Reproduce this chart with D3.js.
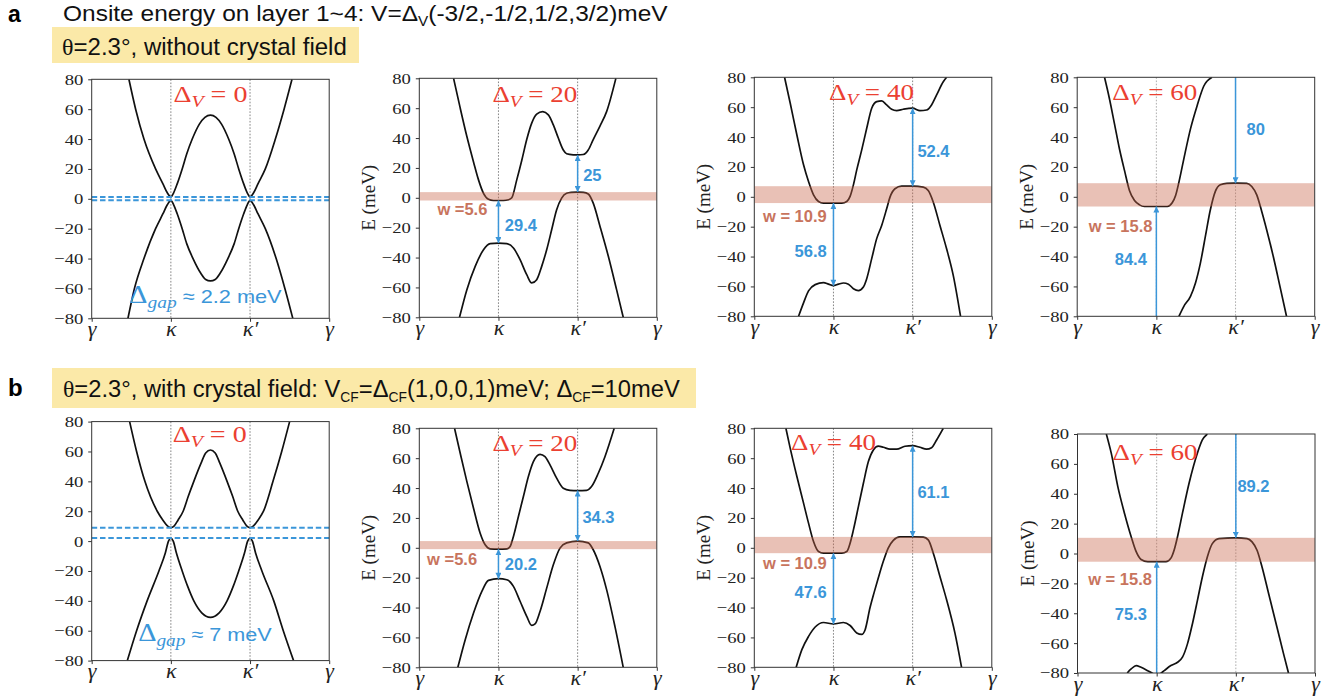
<!DOCTYPE html>
<html><head><meta charset="utf-8">
<script src="https://cdn.jsdelivr.net/npm/d3@7"></script>
<style>body{margin:0;background:#fff}svg{display:block}text{white-space:pre}</style>
</head><body>
<svg id="c" width="1343" height="700"></svg>
<script>
// ---------- data ----------
const kTicks = [0, 1, 2, 3];
const kTickLabels = ["γ", "κ", "κ′", "γ"];
const eTicks = [-80, -60, -40, -20, 0, 20, 40, 60, 80];
const deltaV = [0, 20, 40, 60];

// band points [k, E(meV)]  (k: γ=0, κ=1, κ'=2, γ=3)
const a1Cond = [[0.47,80],[0.555,60],[0.66,40],[0.807,20],[0.9,10],[0.955,4],[1.0,1.2],[1.035,4],[1.08,10],[1.143,20],[1.2,30],[1.27,40],[1.36,50],[1.43,54.5],[1.5,56],[1.57,54.5],[1.64,50],[1.73,40],[1.8,30],[1.857,20],[1.92,10],[1.965,4],[2.0,1.2],[2.045,4],[2.1,10],[2.193,20],[2.32,40],[2.43,60],[2.53,80]];
const a1Val = [[0.458,-80],[0.54,-60],[0.66,-40],[0.807,-20],[0.9,-10],[0.955,-4],[1.0,-1.0],[1.035,-4],[1.08,-10],[1.143,-20],[1.2,-30],[1.28,-40],[1.38,-50],[1.44,-54],[1.5,-55],[1.56,-54],[1.62,-50],[1.72,-40],[1.8,-30],[1.857,-20],[1.92,-10],[1.965,-4],[2.0,-1.0],[2.045,-4],[2.1,-10],[2.193,-20],[2.33,-40],[2.44,-60],[2.54,-80]];
const a2Cond = [[0.433,80],[0.517,60],[0.601,41],[0.685,24],[0.748,12],[0.811,3],[0.874,-1],[0.937,-1.8],[1.0,-1.8],[1.063,-1.8],[1.126,-1.3],[1.168,0],[1.231,12],[1.294,25],[1.357,39],[1.42,50],[1.483,56],[1.559,57.7],[1.63,55.5],[1.693,48.8],[1.756,40],[1.819,32],[1.861,29.5],[1.945,28.8],[2.0,28.7],[2.071,29],[2.134,32],[2.197,39],[2.282,48],[2.366,57.7],[2.483,80]];
const a2Val = [[0.508,-80],[0.601,-61.5],[0.706,-45.9],[0.811,-34.8],[0.895,-30.7],[1.0,-30.3],[1.105,-30.7],[1.189,-33.6],[1.273,-41.4],[1.357,-51.5],[1.42,-57],[1.483,-54.8],[1.546,-45.9],[1.609,-34.8],[1.672,-21.4],[1.735,-8],[1.798,-0.2],[1.861,3],[1.924,3.6],[2.0,3.8],[2.071,3.6],[2.134,2.5],[2.197,-3.6],[2.282,-19],[2.387,-39],[2.492,-61.5],[2.576,-80]];
const a3Cond = [[0.382,80],[0.454,62.6],[0.538,41.4],[0.622,21.4],[0.685,10.2],[0.748,1.3],[0.811,-3.1],[0.874,-4.2],[1.0,-4.2],[1.105,-4.2],[1.168,-3.1],[1.21,0.3],[1.252,8],[1.294,18],[1.357,31.4],[1.42,45.9],[1.483,59.3],[1.546,63.7],[1.609,64.2],[1.672,61.5],[1.735,58.6],[1.798,57.7],[1.882,58.6],[2.0,59.3],[2.092,57.7],[2.176,58.1],[2.239,61.5],[2.303,68.2],[2.387,77],[2.429,80]];
const a3Val = [[0.559,-80],[0.622,-71],[0.685,-63],[0.769,-58.8],[0.874,-57.5],[0.937,-58.5],[1.0,-59.5],[1.063,-58.5],[1.126,-57.7],[1.189,-58.5],[1.252,-61.5],[1.315,-62.8],[1.378,-60.4],[1.42,-54.8],[1.483,-41.4],[1.546,-28],[1.609,-19.2],[1.672,-8],[1.714,-0.2],[1.777,5.4],[1.861,7.1],[2.0,7.1],[2.134,6.5],[2.197,4.2],[2.261,-3.6],[2.345,-19.2],[2.429,-34.8],[2.513,-52.6],[2.605,-80]];
const a4Cond = [[0.345,80],[0.408,65.5],[0.471,48.8],[0.534,32],[0.598,17.5],[0.661,4.1],[0.724,-2.5],[0.787,-5.4],[0.849,-6.5],[1.0,-6.5],[1.138,-6.5],[1.2,-4],[1.243,0.9],[1.285,9.8],[1.347,25.4],[1.431,45.5],[1.515,61],[1.598,74],[1.703,80]];
const a4Val = [[1.285,-80],[1.347,-73.3],[1.431,-66.6],[1.494,-57.7],[1.556,-44.4],[1.619,-26.5],[1.682,-8.7],[1.745,3.6],[1.808,8],[1.891,9],[2.0,9.1],[2.142,9],[2.205,6.9],[2.268,1.3],[2.331,-9.8],[2.393,-22],[2.477,-40],[2.561,-60],[2.644,-80]];
const b1Cond = [[0.479,80],[0.567,60],[0.672,40],[0.828,20],[0.9,14],[0.96,10],[1.0,9],[1.04,10],[1.09,14],[1.155,20],[1.22,30],[1.29,40],[1.38,52],[1.44,59],[1.5,61],[1.56,59],[1.62,52],[1.71,40],[1.78,30],[1.845,20],[1.91,14],[1.96,10],[2.0,9],[2.04,10],[2.1,14],[2.17,20],[2.29,40],[2.4,60],[2.5,80]];
const b1Val = [[0.45,-80],[0.567,-60],[0.7,-40],[0.849,-20],[0.93,-8],[0.97,0],[1.0,2],[1.03,0],[1.07,-8],[1.143,-20],[1.21,-30],[1.29,-40],[1.39,-48],[1.5,-51],[1.61,-48],[1.71,-40],[1.79,-30],[1.857,-20],[1.93,-8],[1.97,0],[2.0,2],[2.03,0],[2.07,-8],[2.15,-20],[2.3,-40],[2.42,-60],[2.55,-80]];
const b2Cond = [[0.445,80],[0.517,63.3],[0.601,44.3],[0.685,26.5],[0.769,9.8],[0.832,2],[0.895,-0.7],[1.0,-0.9],[1.105,-0.7],[1.147,0.9],[1.189,7.6],[1.252,21],[1.315,34.3],[1.378,47.7],[1.441,57.7],[1.525,62.6],[1.588,61],[1.651,55.5],[1.735,46.6],[1.819,39.9],[1.903,38.5],[2.0,38.3],[2.113,38.5],[2.176,41],[2.261,49.9],[2.345,61],[2.462,80]];
const b2Val = [[0.487,-80],[0.58,-61.5],[0.685,-43.7],[0.79,-29.2],[0.874,-21.8],[1.0,-20.7],[1.105,-21.4],[1.189,-25.8],[1.273,-35.8],[1.357,-45.9],[1.42,-52],[1.462,-51],[1.525,-42.6],[1.609,-27],[1.693,-11.4],[1.777,-0.2],[1.861,3.3],[2.0,4.5],[2.134,3.3],[2.197,-1.3],[2.282,-12.5],[2.366,-28],[2.471,-52.6],[2.576,-80]];
const b3Cond = [[0.399,80],[0.454,66.6],[0.538,47.7],[0.622,29.9],[0.685,16.5],[0.748,4.2],[0.811,-2.5],[0.874,-3.6],[1.0,-3.6],[1.105,-3.6],[1.168,-2.5],[1.21,3.1],[1.252,12],[1.315,27.6],[1.378,43.2],[1.441,57.7],[1.504,65.5],[1.567,68],[1.63,67.3],[1.714,66],[1.798,66],[1.903,68],[2.0,68.4],[2.092,67.3],[2.176,66],[2.239,67],[2.303,72.2],[2.387,80]];
const b3Val = [[0.529,-80],[0.601,-68.2],[0.685,-59.3],[0.769,-53],[0.874,-50],[1.0,-51],[1.126,-50],[1.21,-52],[1.294,-57],[1.357,-58],[1.399,-55],[1.462,-40],[1.513,-30],[1.567,-20],[1.63,-9],[1.693,0],[1.756,5],[1.84,7.3],[2.0,7.3],[2.134,7.1],[2.197,5.3],[2.261,-3.6],[2.345,-19.2],[2.429,-34.8],[2.534,-57],[2.618,-80]];
const b4Cond = [[0.364,80],[0.427,67],[0.51,44.6],[0.594,26.8],[0.678,11.2],[0.741,1.2],[0.803,-4],[0.887,-5.5],[1.0,-5.5],[1.117,-5.5],[1.18,-3.1],[1.222,2.5],[1.264,11.4],[1.326,27],[1.41,47.2],[1.515,67.3],[1.577,76],[1.64,80]];
const b4Val = [[0.628,-80],[0.678,-77.3],[0.741,-75],[0.803,-76.2],[0.887,-78.5],[0.971,-81],[1.0,-82],[1.033,-81],[1.096,-78.4],[1.18,-75],[1.264,-72.8],[1.326,-69.4],[1.389,-60.5],[1.452,-47],[1.515,-31.4],[1.577,-15.7],[1.64,-2.3],[1.703,6.6],[1.787,10],[2.0,10.5],[2.142,10],[2.205,7.8],[2.268,2.2],[2.331,-9],[2.414,-26.8],[2.519,-49.2],[2.603,-67.2],[2.665,-80]];

// Δgap dashed levels (panel 1 of each row)
const a1GapLevels = [1.2, -1.0];
const b1GapLevels = [9, 2];
const gapTexts = ["2.2 meV", "7 meV"];

// bandwidth windows [bottom, top] (meV)
const a2Window = [-1.8, 3.8], a3Window = [-4.2, 7.1], a4Window = [-6.5, 9.1];
const b2Window = [-0.9, 4.5], b3Window = [-3.6, 7.3], b4Window = [-5.5, 10.5];
const wLabelsA = ["w =5.6", "w = 10.9", "w = 15.8"];
const wLabelsB = ["w =5.6", "w = 10.9", "w = 15.8"];

// gap arrows at κ and κ' : [k, fromE, toE]
const a2Arrows = [[1, -1.8, -30.3], [2, 3.8, 28.7]];
const a3Arrows = [[1, -4.2, -59.5], [2, 7.1, 59.3]];
const a4Arrows = [[1, -80, -6.5], [2, 80, 9.1]];
const b2Arrows = [[1, -0.9, -20.7], [2, 4.5, 38.3]];
const b3Arrows = [[1, -3.6, -51], [2, 7.3, 68.4]];
const b4Arrows = [[1, -80, -5.5], [2, 80, 10.5]];
const a2GapLabels = ["29.4", "25"], a3GapLabels = ["56.8", "52.4"], a4GapLabels = ["84.4", "80"];
const b2GapLabels = ["20.2", "34.3"], b3GapLabels = ["47.6", "61.1"], b4GapLabels = ["75.3", "89.2"];

// ---------- styles / layout ----------
const SANS = "'Liberation Sans', Arial, sans-serif";
const SERIF = "'Liberation Serif', 'Times New Roman', serif";
const RED = "#eb4031", BLUE = "#3b96d9", WCOL = "#c8745d", YEL = "#fbe9a8";
const PW = 237.5, PH = 239;

const panels = [
  {pos:[91.7,79.3], dv:deltaV[0], cond:a1Cond, val:a1Val, gap:a1GapLevels, gapText:gapTexts[0], gapPos:[1.435,-69.7,153], title:[1.5,65,74], ylab:false},
  {pos:[419.3,78.3], dv:deltaV[1], cond:a2Cond, val:a2Val, win:a2Window, wl:wLabelsA[0], arrows:a2Arrows, gl:a2GapLabels, title:[1.46,64.3,85], ylab:true, single:false,
    lab:[[1.08,-18,"start"],[2.07,15,"start"],[0.86,-7.5,"end"]]},
  {pos:[754.3,77.3], dv:deltaV[2], cond:a3Cond, val:a3Val, win:a3Window, wl:wLabelsA[1], arrows:a3Arrows, gl:a3GapLabels, title:[1.48,64.8,85], ylab:true, single:false,
    lab:[[0.915,-36.3,"end"],[2.06,30.7,"start"],[0.915,-12.8,"end"]]},
  {pos:[1077.2,77.3], dv:deltaV[3], cond:a4Cond, val:a4Val, win:a4Window, wl:wLabelsA[2], arrows:a4Arrows, gl:a4GapLabels, title:[0.98,64.8,85], ylab:true, single:true,
    lab:[[0.88,-41.6,"end"],[2.14,45.4,"start"],[0.95,-19.5,"end"]]},
  {pos:[91.7,421.6], dv:deltaV[0], cond:b1Cond, val:b1Val, gap:b1GapLevels, gapText:gapTexts[1], gapPos:[1.43,-67,134], title:[1.49,66.6,74], ylab:false},
  {pos:[419.3,428.3], dv:deltaV[1], cond:b2Cond, val:b2Val, win:b2Window, wl:wLabelsB[0], arrows:b2Arrows, gl:b2GapLabels, title:[1.46,65,85], ylab:true, single:false,
    lab:[[1.08,-10.8,"start"],[2.06,20.8,"start"],[0.73,-7.5,"end"]]},
  {pos:[754.3,428.3], dv:deltaV[2], cond:b3Cond, val:b3Val, win:b3Window, wl:wLabelsB[1], arrows:b3Arrows, gl:b3GapLabels, title:[1.0,65.5,85], ylab:true, single:false,
    lab:[[0.915,-29.4,"end"],[2.06,37.6,"start"],[0.915,-10,"end"]]},
  {pos:[1077.5,434], dv:deltaV[3], cond:b4Cond, val:b4Val, win:b4Window, wl:wLabelsB[2], arrows:b4Arrows, gl:b4GapLabels, title:[0.98,62.6,85], ylab:true, single:true,
    lab:[[0.876,-40.5,"end"],[2.02,45.2,"start"],[0.94,-17,"end"]]}
];

const svg = d3.select("#c");
const defs = svg.append("defs");
defs.append("marker").attr("id","ah").attr("viewBox","0 0 10 10").attr("refX",10).attr("refY",5)
  .attr("markerWidth",6.5).attr("markerHeight",6).attr("markerUnits","userSpaceOnUse")
  .attr("orient","auto-start-reverse")
  .append("path").attr("d","M0,0L10,5L0,10z").attr("fill",BLUE);

function rich(t, parts){
  let cur = 0;
  parts.forEach(p=>{
    const off = p.off || 0;
    const s = t.append("tspan").text(p.t);
    if (off !== cur) s.attr("dy", off - cur);
    cur = off;
    if (p.size) s.attr("font-size", p.size);
    if (p.it) s.attr("font-style", "italic");
    if (p.f) s.attr("font-family", p.f);
    if (p.w) s.attr("font-weight", p.w);
  });
  return t;
}
function fitText(t, x, y, w){
  const bb = t.node().getBBox();
  const s = w / bb.width;
  t.attr("transform", `translate(${x},${y}) scale(${s},1)`);
}

// ---------- headers ----------
svg.append("text").attr("x",8).attr("y",22).attr("font-family",SANS).attr("font-weight","bold").attr("font-size",23).text("a");
svg.append("text").attr("x",8).attr("y",396).attr("font-family",SANS).attr("font-weight","bold").attr("font-size",24).text("b");
{
  const t = svg.append("text").attr("font-family",SANS).attr("font-size",22.5).attr("fill","#111");
  rich(t,[{t:"Onsite energy on layer 1~4: V=Δ"},{t:"V",size:14,off:5},{t:"(-3/2,-1/2,1/2,3/2)meV",off:0}]);
  fitText(t, 63, 21, 605);
}
svg.append("rect").attr("x",52).attr("y",27).attr("width",307).attr("height",36).attr("fill",YEL);
{
  const t = svg.append("text").attr("font-family",SANS).attr("font-size",24).attr("fill","#111");
  rich(t,[{t:"θ",f:SERIF},{t:"=2.3°, without crystal field"}]);
  fitText(t, 62, 55, 285);
}
svg.append("rect").attr("x",52).attr("y",368).attr("width",644).attr("height",40).attr("fill",YEL);
{
  const t = svg.append("text").attr("font-family",SANS).attr("font-size",24).attr("fill","#111");
  rich(t,[{t:"θ",f:SERIF},{t:"=2.3°, with crystal field: V"},{t:"CF",size:14,off:5},{t:"=Δ",off:0},{t:"CF",size:14,off:5},
    {t:"(1,0,0,1)meV; Δ",off:0},{t:"CF",size:14,off:5},{t:"=10meV",off:0}]);
  fitText(t, 63, 397, 617);
}

// ---------- panels ----------
panels.forEach((p, pi)=>{
  const g = svg.append("g").attr("transform", `translate(${p.pos[0]},${p.pos[1]})`);
  const x = d3.scaleLinear().domain([0,3]).range([0,PW]);
  const y = d3.scaleLinear().domain([-80,80]).range([PH,0]);
  const cid = "clip"+pi;
  defs.append("clipPath").attr("id",cid).append("rect").attr("width",PW).attr("height",PH);
  const inner = g.append("g").attr("clip-path",`url(#${cid})`);

  // κ, κ' dotted lines
  inner.selectAll("line.kl").data(kTicks.slice(1,3)).join("line")
    .attr("x1",d=>x(d)).attr("x2",d=>x(d)).attr("y1",0).attr("y2",PH)
    .attr("stroke", pi%4===3 ? "#999" : "#666").attr("stroke-width",0.8).attr("stroke-dasharray","1.6,1.6");

  // bands
  const line = d3.line().x(d=>x(d[0])).y(d=>y(d[1])).curve(d3.curveMonotoneX);
  [p.cond, p.val].forEach(b=>{
    inner.append("path").attr("d", line(b)).attr("fill","none").attr("stroke","#111").attr("stroke-width",1.7);
  });

  // window band
  if (p.win){
    inner.append("rect").attr("x",0).attr("width",PW).attr("y",y(p.win[1])).attr("height",y(p.win[0])-y(p.win[1]))
      .attr("fill","rgb(200,100,72)").attr("fill-opacity",0.4);
  }
  // gap lines
  if (p.gap){
    inner.selectAll("line.gp").data(p.gap).join("line")
      .attr("x1",0).attr("x2",PW).attr("y1",d=>y(d)).attr("y2",d=>y(d))
      .attr("stroke",BLUE).attr("stroke-width",2).attr("stroke-dasharray","5.5,2.8");
    const t = g.append("text").attr("text-anchor","middle").attr("fill",BLUE);
    rich(t,[{t:"Δ",f:SERIF,size:25},{t:"gap",f:SERIF,it:true,size:17,off:5},{t:" ≈ "+p.gapText,f:SANS,size:19,off:0}]);
    fitText(t, x(p.gapPos[0]), y(p.gapPos[1]), p.gapPos[2]);
  }
  // arrows
  if (p.arrows){
    p.arrows.forEach(a=>{
      const l = inner.append("line").attr("x1",x(a[0])).attr("x2",x(a[0])).attr("y1",y(a[1])).attr("y2",y(a[2]))
        .attr("stroke",BLUE).attr("stroke-width",1.5).attr("marker-end","url(#ah)");
      if (!p.single) l.attr("marker-start","url(#ah)");
    });
    const texts = [p.gl[0], p.gl[1], p.wl];
    p.lab.forEach((L,i)=>{
      g.append("text").attr("x",x(L[0])).attr("y",y(L[1])).attr("dy","0.36em").attr("text-anchor",L[2])
        .attr("font-family",SANS).attr("font-weight","bold").attr("font-size",16.5)
        .attr("fill", i===2 ? WCOL : BLUE).text(texts[i]);
    });
  }
  // title
  {
    const t = g.append("text").attr("text-anchor","middle").attr("fill",RED).attr("font-family",SERIF).attr("font-size",24);
    rich(t,[{t:"Δ"},{t:"V",it:true,size:17,off:5},{t:" = "+p.dv,off:0}]);
    fitText(t, x(p.title[0]), y(p.title[1]), p.title[2]);
  }

  // frame
  g.append("rect").attr("width",PW).attr("height",PH).attr("fill","none").attr("stroke","#333").attr("stroke-width",1);

  // axes
  const sx = 1.2;
  const ya = g.append("g").call(d3.axisLeft(y).tickValues(eTicks).tickSize(3.5).tickPadding(3.5));
  ya.select(".domain").remove();
  ya.selectAll("line").attr("stroke","#333");
  ya.selectAll("text").attr("font-family",SERIF).attr("font-size",15.5).attr("fill","#222")
    .attr("x", -8.4/sx).attr("transform",`scale(${sx},1)`);
  const xa = g.append("g").attr("transform",`translate(0,${PH})`)
    .call(d3.axisBottom(x).tickValues(kTicks).tickFormat((d,i)=>kTickLabels[i]).tickSize(3.5).tickPadding(0));
  xa.select(".domain").remove();
  xa.selectAll("line").attr("stroke","#333");
  xa.selectAll("text").attr("font-family",SERIF).attr("font-style","italic").attr("font-size",20).attr("fill","#222")
    .attr("transform","scale(1.1,1)");

  if (p.ylab){
    g.append("text").attr("transform",`translate(-44,${PH/2}) rotate(-90)`).attr("text-anchor","middle")
      .attr("font-family",SERIF).attr("font-size",19).attr("fill","#222").text("E (meV)");
  }
});
</script>
</body></html>
